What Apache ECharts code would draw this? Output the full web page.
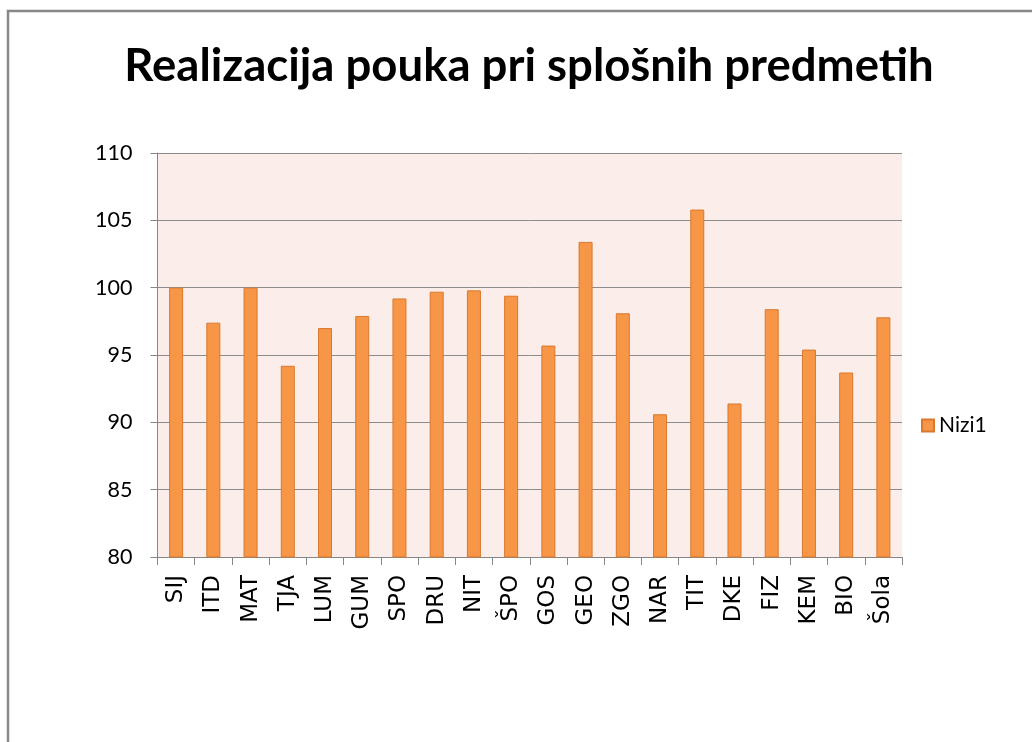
<!DOCTYPE html>
<html>
<head>
<meta charset="utf-8">
<script src="https://cdn.jsdelivr.net/npm/echarts@6/dist/echarts.min.js"></script>
<style>
html,body{margin:0;padding:0;background:#fff;}
#c{width:1032px;height:742px;}
</style>
</head>
<body>
<div id="c"></div>
<script>
const titleText = 'Realizacija pouka pri splošnih predmetih';
const seriesName = 'Nizi1';
const categories = ['SIJ','ITD','MAT','TJA','LUM','GUM','SPO','DRU','NIT','ŠPO','GOS','GEO','ZGO','NAR','TIT','DKE','FIZ','KEM','BIO','Šola'];
const values = [100.0, 97.4, 100.0, 94.2, 97.0, 97.9, 99.2, 99.7, 99.8, 99.4, 95.7, 103.4, 98.1, 90.6, 105.8, 91.4, 98.4, 95.4, 93.7, 97.8];
const yMin = 80, yMax = 110, yStep = 5;

const chart = echarts.init(document.getElementById('c'), null, {renderer:'canvas'});
chart.setOption({
  backgroundColor: '#ffffff',
  animation: false,
  title: {
    text: titleText,
    left: 524, top: 38, textAlign: 'center',
    textStyle: {fontFamily: 'Lato', fontWeight: 'bold', fontSize: 45.5, color: '#000'}
  },
  graphic: [{
    type: 'rect', silent: true, z: -1,
    shape: {x: 8, y: 11, width: 1100, height: 800},
    style: {fill: 'none', stroke: '#888888', lineWidth: 2.5}
  }],
  legend: {
    data: [seriesName],
    left: 916, top: 410,
    itemWidth: 12, itemHeight: 12, itemGap: 5,
    icon: 'rect',
    textStyle: {fontFamily: 'Lato', fontSize: 21, color: '#000'}
  },
  grid: {left: 157.5, right: 130, top: 153, bottom: 185, show: true, backgroundColor: '#FBEEEA', borderWidth: 0},
  xAxis: {
    type: 'category', data: categories,
    axisLine: {lineStyle: {color: '#868686', width: 1}},
    axisTick: {show: true, length: 8, lineStyle: {color: '#868686'}},
    axisLabel: {rotate: 90, margin: 18, fontFamily: '"DejaVu Sans"', fontSize: 23, color: '#000', interval: 0}
  },
  yAxis: {
    type: 'value', min: yMin, max: yMax, interval: yStep,
    axisLine: {show: true, lineStyle: {color: '#868686', width: 1}},
    axisTick: {show: true, length: 7, lineStyle: {color: '#868686'}},
    splitLine: {lineStyle: {color: '#8C8C8C', width: 1}},
    axisLabel: {margin: 25, fontFamily: 'Lato', fontSize: 21.5, color: '#000'}
  },
  series: [{
    name: seriesName, type: 'bar', data: values, barWidth: 14,
    itemStyle: {color: '#F79646', borderColor: '#D9782F', borderWidth: 1}
  }]
});
</script>
</body>
</html>
